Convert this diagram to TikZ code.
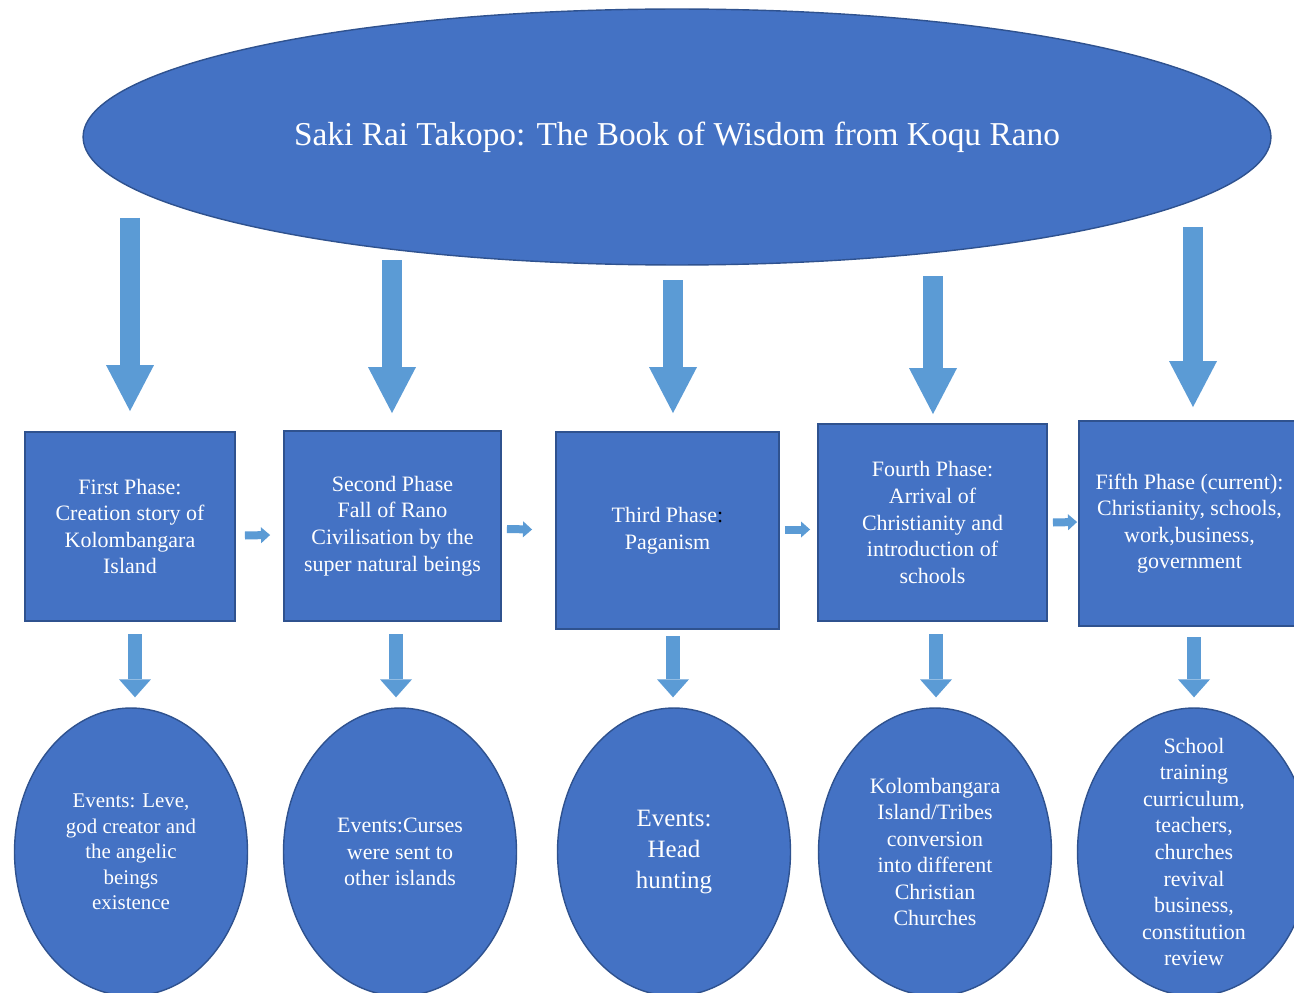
\documentclass[tikz,border=0pt]{standalone}
\usepackage{fontspec}
\setmainfont{Liberation Serif}
\usetikzlibrary{shapes.geometric, arrows.meta}
\definecolor{phaseblue}{HTML}{4472C4}
\definecolor{phaseedge}{HTML}{2F528F}
\definecolor{arrowblue}{HTML}{5B9BD5}
\tikzstyle{book} = [ellipse, minimum width=23.76cm, minimum height=5.12cm, inner sep=0pt, draw=phaseedge, fill=phaseblue, line width=0.8pt, text=white, font=\fontsize{19}{23}\selectfont]
\tikzstyle{phase} = [rectangle, inner sep=0pt, text centered, align=center, draw=phaseedge, fill=phaseblue, line width=1.1pt, text=white, font=\fontsize{12.5}{15.1}\selectfont]
\tikzstyle{event} = [ellipse, minimum width=4.66cm, minimum height=5.76cm, inner sep=-1.5cm, align=center, draw=phaseedge, fill=phaseblue, line width=0.8pt, text=white, font=\fontsize{12.5}{15.1}\selectfont]
\tikzstyle{bigarrow} = [color=arrowblue, line width=0.4cm, -{Triangle[width=0.96cm,length=0.92cm,line width=0pt]}]
\tikzstyle{midarrow} = [color=arrowblue, line width=0.28cm, -{Triangle[width=0.64cm,length=0.36cm,line width=0pt]}]
\tikzstyle{smallarrow} = [color=arrowblue, line width=0.16cm, -{Triangle[width=0.32cm,length=0.18cm,line width=0pt]}]

\begin{document}
\begin{tikzpicture}[x=0.02cm, y=-0.02cm]
        \useasboundingbox (0,0) rectangle (1294,993);
        \fill[white] (0,0) rectangle (1294,993);

        % Top
        \node (book) [book] at (677,137) {Saki Rai Takopo: The Book of Wisdom from Koqu Rano};

        % Row 1
        \node (first) [phase, minimum width=4.2cm, minimum height=3.78cm] at (130,526.5) {First Phase:\\Creation story of\\Kolombangara\\Island};
        \node (second) [phase, minimum width=4.34cm, minimum height=3.8cm] at (392.5,526) {Second Phase\\Fall of Rano\\Civilisation by the\\super natural beings};
        \node (third) [phase, minimum width=4.46cm, minimum height=3.94cm] at (667.5,530.5) {Third Phase\textcolor{black}{:}\\Paganism};
        \node (fourth) [phase, minimum width=4.58cm, minimum height=3.94cm] at (932.5,522.5) {Fourth Phase:\\Arrival of\\Christianity and\\introduction of\\schools};
        \node (fifth) [phase, minimum width=4.42cm, minimum height=4.1cm] at (1189.5,523.5) {Fifth Phase (current):\\Christianity, schools,\\work,business,\\government};

        % Row 2
        \node (ev1) [event, font=\fontsize{11.9}{14.5}\selectfont] at (131,852) {Events: Leve,\\god creator and\\the angelic\\beings\\existence};
        \node (ev2) [event] at (400,852) {Events:Curses\\were sent to\\other islands};
        \node (ev3) [event, font=\fontsize{14.2}{17.6}\selectfont] at (674,852) {Events:\\Head\\hunting};
        \node (ev4) [event] at (935,852) {Kolombangara\\Island/Tribes\\conversion\\into different\\Christian\\Churches};
        \node (ev5) [event] at (1194,852) {School\\training\\curriculum,\\teachers,\\churches\\revival\\business,\\constitution\\review};

        % Arrows from the book
        \coordinate (t1) at (130,218);
        \coordinate (t2) at (392,260);
        \coordinate (t3) at (673,280);
        \coordinate (t4) at (933,276);
        \coordinate (t5) at (1193,227);
        \draw [bigarrow, shorten >=0.4cm] (t1) -- (t1 |- first.north);
        \draw [bigarrow, shorten >=0.34cm] (t2) -- (t2 |- second.north);
        \draw [bigarrow, shorten >=0.36cm] (t3) -- (t3 |- third.north);
        \draw [bigarrow, shorten >=0.18cm] (t4) -- (t4 |- fourth.north);
        \draw [bigarrow, shorten >=0.26cm] (t5) -- (t5 |- fifth.north);

        % Arrows between phases
        \draw [smallarrow] ([shift={(9,9)}]first.east) -- ([shift={(-13,9)}]second.west);
        \draw [smallarrow] ([shift={(5,3)}]second.east) -- ([shift={(-23,-1)}]third.west);
        \draw [smallarrow] ([shift={(5,-1)}]third.east) -- ([shift={(-7,7)}]fourth.west);
        \draw [smallarrow] ([shift={(5,0)}]fourth.east) -- ([shift={(-1,-1.5)}]fifth.west);

        % Arrows to events
        \coordinate (d1) at (135,634);
        \coordinate (d2) at (396,634);
        \coordinate (d3) at (673,636);
        \coordinate (d4) at (936,634);
        \coordinate (d5) at (1194,637);
        \draw [midarrow, shorten >=0.2cm] (d1) -- (d1 |- ev1.north);
        \draw [midarrow, shorten >=0.2cm] (d2) -- (d2 |- ev2.north);
        \draw [midarrow, shorten >=0.2cm] (d3) -- (d3 |- ev3.north);
        \draw [midarrow, shorten >=0.2cm] (d4) -- (d4 |- ev4.north);
        \draw [midarrow, shorten >=0.2cm] (d5) -- (d5 |- ev5.north);
    \end{tikzpicture}
\end{document}
